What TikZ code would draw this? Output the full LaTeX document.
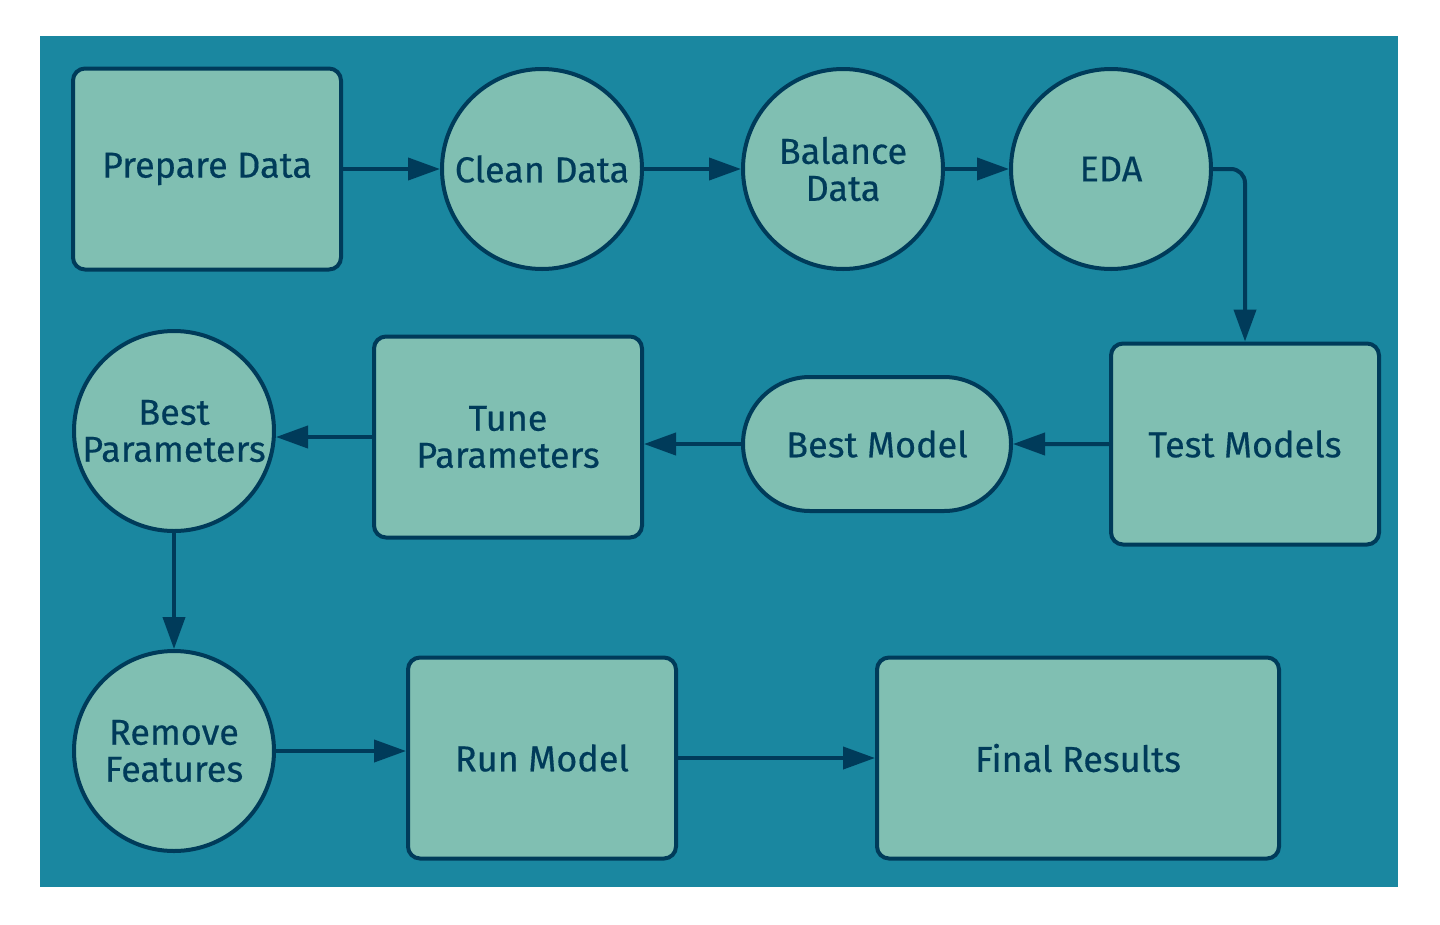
\documentclass[tikz,border=0pt]{standalone}
\usepackage{fontspec}
\setmainfont{Fira Sans}[FakeBold=0.4]
\usetikzlibrary{arrows.meta,shapes.misc}
\definecolor{bgc}{HTML}{1A87A0}
\definecolor{fillc}{HTML}{80BFB2}
\definecolor{strokec}{HTML}{003B5A}
\tikzset{
  base/.style={draw=strokec,fill=fillc,line width=4pt,text=strokec,align=center,inner sep=0pt,
    font=\fontsize{36}{37}\selectfont},
  boxnode/.style={base,rectangle,rounded corners=12pt,minimum width=268pt,minimum height=201pt},
  circnode/.style={base,circle,minimum size=200pt},
  pillnode/.style={base,rounded rectangle,minimum width=268pt,minimum height=134pt},
  conn/.style={draw=strokec,line width=4pt,-{Triangle[length=32pt,width=22pt]}}
}
\begin{document}
\begin{tikzpicture}[x=1pt,y=-1pt]
\useasboundingbox (0,0) rectangle (1440,924);
\fill[bgc] (40,36) rectangle (1398,887);
\node[boxnode] (prep) at (207,169) {Prepare Data};
\node[circnode] (clean) at (542,169) {Clean Data};
\node[circnode] (bal) at (843,169) {Balance\\Data};
\node[circnode] (eda) at (1111,169) {EDA};
\node[boxnode] (test) at (1245,444) {Test Models};
\node[pillnode] (bm) at (877,444) {Best Model};
\node[boxnode] (tune) at (508,437) {Tune\\Parameters};
\node[circnode] (bp) at (174,431) {Best\\Parameters};
\node[circnode] (rf) at (174,751) {Remove\\Features};
\node[boxnode] (run) at (542,758) {Run Model};
\node[boxnode,minimum width=402pt] (fin) at (1078,758) {Final Results};
\draw[conn] (prep) -- (clean);
\draw[conn] (clean) -- (bal);
\draw[conn] (bal) -- (eda);
\draw[conn,rounded corners=14pt] (eda.east) -| (test.north);
\draw[conn] (test) -- (bm);
\draw[conn] (bm.west) -- (bm.west -| tune.east);
\draw[conn] (tune.west) -- (tune.west -| bp.east);
\draw[conn] (bp) -- (rf);
\draw[conn] (rf.east) -- (rf.east -| run.west);
\draw[conn] (run) -- (fin);
\end{tikzpicture}
\end{document}
